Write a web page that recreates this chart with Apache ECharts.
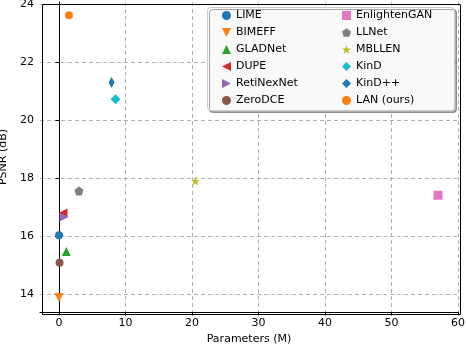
<!DOCTYPE html>
<html>
<head>
<meta charset="utf-8">
<script src="https://cdn.jsdelivr.net/npm/echarts@6/dist/echarts.min.js"></script>
<style>
  html, body { margin: 0; padding: 0; background: #fff; }
  #chart-container { width: 466px; height: 348px; }
</style>
</head>
<body>
<div id="chart-container"></div>
<script>
var dom = document.getElementById('chart-container');
var myChart = echarts.init(dom, null, { renderer: 'canvas' });

// methods, in legend order (column 1 then column 2)
var methods = ['LIME', 'BIMEFF', 'GLADNet', 'DUPE', 'RetiNexNet', 'ZeroDCE',
               'EnlightenGAN', 'LLNet', 'MBLLEN', 'KinD', 'KinD++', 'LAN (ours)'];
// parameters (M)
var params = [0, 0, 1.1, 0.6, 0.75, 0.08, 57.0, 3.0, 20.5, 8.5, 7.9, 1.5];
// PSNR (dB)
var psnr = [16.03, 13.88, 15.47, 16.8, 16.66, 15.08, 17.41, 17.56, 17.9, 20.72, 21.3, 23.62];

var xTicks = [0, 10, 20, 30, 40, 50, 60];
var yTicks = [14, 16, 18, 20, 22, 24];

// marker styles
var colors = ['#1f77b4', '#ff7f0e', '#2ca02c', '#d62728', '#9467bd', '#8c564b',
              '#e377c2', '#7f7f7f', '#bcbd22', '#17becf', '#1f77b4', '#ff7f0e'];
var pentagon = 'path://M0,-1 L0.951,-0.309 L0.588,0.809 L-0.588,0.809 L-0.951,-0.309 Z';
var star = 'path://M0,-1 L0.225,-0.309 L0.951,-0.309 L0.363,0.118 L0.588,0.809 L0,0.382 L-0.588,0.809 L-0.363,0.118 L-0.951,-0.309 L-0.225,-0.309 Z';
var triDown = 'path://M-1,-1 L1,-1 L0,1 Z';
var triUp = 'path://M-1,1 L1,1 L0,-1 Z';
var triLeft = 'path://M1,-1 L1,1 L-1,0 Z';
var triRight = 'path://M-1,-1 L-1,1 L1,0 Z';
var symbols = ['circle', triDown, triUp, triLeft, triRight, 'circle',
               'rect', pentagon, star, 'diamond', 'diamond', 'circle'];
var sizes = [8, 9, 9, 9, 9, 8, 9, 9, 9, 10, [6, 11], 8];

var font = 'DejaVu Sans';
var grid = { left: 40, right: 8, top: 2, bottom: 36 };

var series = methods.map(function (name, i) {
    return {
        name: name,
        type: 'scatter',
        data: [[params[i], psnr[i]]],
        symbol: symbols[i],
        symbolSize: sizes[i],
        itemStyle: { color: colors[i], opacity: 1 },
        z: 3
    };
});

function legendFor(from, to, left) {
    var items = [];
    for (var i = from; i < to; i++) {
        items.push({ name: methods[i], icon: symbols[i] });
    }
    return {
        data: items,
        orient: 'vertical',
        left: left,
        top: 10,
        padding: 0,
        itemWidth: 9,
        itemHeight: 9,
        itemGap: 6,
        itemTextGap: 14,
        z: 10,
        textStyle: { fontFamily: font, fontSize: 11, color: '#000', lineHeight: 11 }
    };
}

function intLabel(v) {
    return Math.abs(v - Math.round(v)) < 1e-6 ? String(Math.round(v)) : '';
}

var option = {
    animation: false,
    grid: Object.assign({ outerBoundsMode: 'none', containLabel: false }, grid),
    legend: [legendFor(0, 6, 222), legendFor(6, 12, 342)],
    graphic: [
        {
            type: 'rect', left: 207, top: 7, z: 5,
            shape: { width: 247, height: 103, r: 3 },
            style: { fill: 'rgba(255,255,255,0.92)', stroke: '#cccccc', lineWidth: 1,
                     shadowColor: 'rgba(0,0,0,0.35)', shadowOffsetX: 2, shadowOffsetY: 2, shadowBlur: 0 }
        },
        {
            type: 'rect', left: grid.left, top: grid.top, z: 20, silent: true,
            shape: { width: 466 - grid.left - grid.right, height: 348 - grid.top - grid.bottom },
            style: { fill: 'none', stroke: '#000', lineWidth: 1 }
        }
    ],
    xAxis: {
        type: 'value',
        min: -2.86,
        max: 60,
        splitNumber: 6,
        name: 'Parameters (M)',
        nameLocation: 'middle',
        nameGap: 22,
        nameTextStyle: { fontFamily: font, fontSize: 11, color: '#000' },
        axisLine: { lineStyle: { color: '#000' } },
        axisTick: { show: true, length: 3.5, customValues: xTicks, lineStyle: { color: '#000' } },
        axisLabel: { fontFamily: font, fontSize: 11, color: '#000', margin: 6,
                     customValues: xTicks, formatter: intLabel },
        splitLine: { show: true, lineStyle: { color: '#b0b0b0', type: [4, 3], width: 1 } }
    },
    yAxis: {
        type: 'value',
        min: 13.38,
        max: 24.08,
        splitNumber: 5,
        name: 'PSNR (dB)',
        nameLocation: 'middle',
        nameGap: 27,
        nameTextStyle: { fontFamily: font, fontSize: 11, color: '#000' },
        axisLine: { show: true, lineStyle: { color: '#000' } },
        axisTick: { show: true, length: 3.5, customValues: yTicks, lineStyle: { color: '#000' } },
        axisLabel: { fontFamily: font, fontSize: 11, color: '#000', margin: 6,
                     customValues: yTicks, formatter: intLabel },
        splitLine: { show: true, lineStyle: { color: '#b0b0b0', type: [4, 3], width: 1 } }
    },
    series: series
};

myChart.setOption(option);
window.addEventListener('resize', myChart.resize);
</script>
</body>
</html>
